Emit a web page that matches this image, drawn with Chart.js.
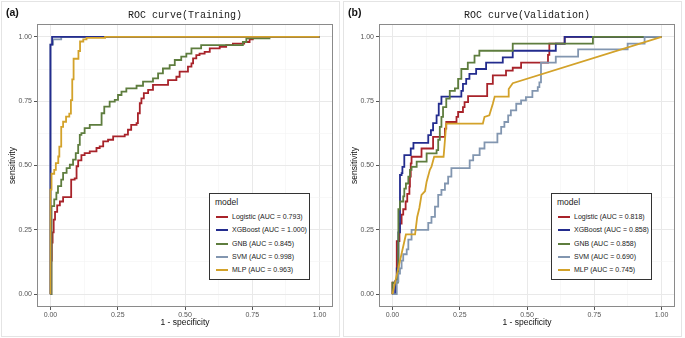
<!DOCTYPE html>
<html>
<head>
<meta charset="utf-8">
<script src="https://cdn.jsdelivr.net/npm/chart.js@4.4.0/dist/chart.umd.min.js"></script>
<style>
  body { margin: 0; background: #fff; width: 685px; height: 338px; overflow: hidden; position: relative;
         font-family: 'Liberation Sans', Arial, sans-serif; }
  .panel { position: absolute; top: 0; width: 340px; height: 338px; }
  .frame { position: absolute; left: 1px; top: 1px; width: 337px; height: 334px; border: 1px solid #e4e4e4; }
  .panel canvas { position: absolute; left: 0; top: 0; }
  .tag { position: absolute; left: 6px; top: 6px; font-weight: bold; font-size: 10.5px; color: #111; }
  .legend { position: absolute; left: 209px; top: 193px; width: 99px; height: 85px; border: 1px solid #333; background: #fff; }
  .legend .ttl { position: absolute; left: 5px; top: 3px; font-size: 8.5px; line-height: 10px; color: #222; }
  .legend .row { position: absolute; left: 0; height: 10px; width: 99px; }
  .legend .key { position: absolute; left: 6px; top: 4px; width: 12px; height: 2px; }
  .legend .lab { position: absolute; left: 22px; top: 0; font-size: 7px; line-height: 10px; color: #222; white-space: nowrap; }
</style>
</head>
<body>
<div class="panel" id="pa" style="left:0px">
  <div class="frame"></div>
  <canvas id="chartA" width="340" height="338"></canvas>
  <div class="tag">(a)</div>
  <div class="legend" id="legA"></div>
</div>
<div class="panel" id="pb" style="left:342px">
  <div class="frame"></div>
  <canvas id="chartB" width="340" height="338"></canvas>
  <div class="tag">(b)</div>
  <div class="legend" id="legB"></div>
</div>
<script>
// models and colours
const models = ['Logistic', 'XGBoost', 'GNB', 'SVM', 'MLP'];
const colors = ['#A8232A', '#232C8E', '#5E7D3E', '#8296B0', '#D3A22A'];
const trainAUC = [0.793, 1.000, 0.845, 0.998, 0.963];
const validAUC = [0.818, 0.858, 0.858, 0.690, 0.745];
const tickValues = [0, 0.25, 0.5, 0.75, 1];
const minorValues = [0.125, 0.375, 0.625, 0.875];

// ROC points [1 - specificity, sensitivity]
const trainLogistic = [[0,0],[0.003,0.13],[0.005,0.2],[0.008,0.24],[0.012,0.29],[0.017,0.32],[0.025,0.345],[0.035,0.36],[0.047,0.377],[0.077,0.445],[0.09,0.45],[0.097,0.497],[0.103,0.52],[0.115,0.54],[0.127,0.548],[0.146,0.555],[0.171,0.568],[0.183,0.574],[0.196,0.594],[0.214,0.6],[0.233,0.613],[0.276,0.62],[0.288,0.639],[0.3,0.658],[0.32,0.665],[0.325,0.703],[0.332,0.742],[0.338,0.761],[0.347,0.781],[0.363,0.794],[0.381,0.813],[0.437,0.832],[0.468,0.845],[0.48,0.865],[0.511,0.884],[0.524,0.897],[0.53,0.916],[0.542,0.929],[0.554,0.935],[0.573,0.942],[0.592,0.955],[0.629,0.961],[0.653,0.968],[0.678,0.974],[0.72,0.98],[0.74,0.99],[0.752,1],[1,1]];
const trainXGB = [[0,0],[0,0.97],[0.006,1],[1,1]];
const trainGNB = [[0,0],[0.004,0.342],[0.014,0.368],[0.022,0.394],[0.028,0.42],[0.04,0.445],[0.047,0.471],[0.06,0.49],[0.072,0.503],[0.084,0.523],[0.094,0.548],[0.103,0.58],[0.109,0.619],[0.115,0.626],[0.127,0.645],[0.146,0.658],[0.19,0.703],[0.2,0.729],[0.22,0.748],[0.239,0.755],[0.251,0.774],[0.264,0.787],[0.282,0.8],[0.32,0.81],[0.344,0.826],[0.381,0.839],[0.4,0.858],[0.418,0.877],[0.443,0.89],[0.462,0.91],[0.486,0.923],[0.505,0.935],[0.524,0.955],[0.56,0.968],[0.715,0.98],[0.728,0.994],[0.814,1],[1,1]];
const trainSVM = [[0,0],[0,0.97],[0.01,0.99],[0.04,1],[1,1]];
const trainMLP = [[0,0],[0,0.406],[0.004,0.468],[0.014,0.483],[0.02,0.509],[0.029,0.535],[0.033,0.573],[0.04,0.65],[0.047,0.67],[0.058,0.69],[0.07,0.702],[0.076,0.754],[0.081,0.835],[0.086,0.915],[0.104,0.945],[0.11,0.982],[0.122,0.99],[0.134,0.996],[0.203,1],[1,1]];

const validLogistic = [[0,0],[0,0.045],[0.016,0.206],[0.026,0.274],[0.034,0.309],[0.04,0.33],[0.049,0.36],[0.055,0.39],[0.063,0.418],[0.065,0.457],[0.068,0.508],[0.071,0.534],[0.108,0.566],[0.151,0.611],[0.195,0.643],[0.2,0.669],[0.238,0.689],[0.244,0.708],[0.262,0.727],[0.268,0.746],[0.281,0.77],[0.352,0.817],[0.373,0.85],[0.422,0.869],[0.447,0.88],[0.478,0.9],[0.578,0.93],[0.583,0.974],[0.64,1],[1,1]];
const validXGB = [[0,0],[0.01,0.05],[0.016,0.1],[0.022,0.24],[0.028,0.463],[0.034,0.47],[0.037,0.495],[0.044,0.54],[0.068,0.566],[0.078,0.588],[0.133,0.618],[0.143,0.637],[0.151,0.665],[0.164,0.695],[0.172,0.74],[0.182,0.768],[0.256,0.79],[0.262,0.817],[0.274,0.837],[0.286,0.856],[0.311,0.875],[0.348,0.9],[0.41,0.92],[0.447,0.946],[0.607,0.974],[0.64,1],[1,1]];
const validGNB = [[0,0],[0,0.045],[0.02,0.09],[0.022,0.33],[0.028,0.36],[0.04,0.38],[0.044,0.41],[0.05,0.43],[0.059,0.457],[0.065,0.483],[0.071,0.495],[0.09,0.515],[0.127,0.547],[0.164,0.56],[0.17,0.6],[0.176,0.65],[0.182,0.689],[0.188,0.727],[0.2,0.76],[0.213,0.79],[0.232,0.8],[0.244,0.837],[0.256,0.875],[0.28,0.9],[0.305,0.927],[0.323,0.946],[0.447,0.974],[0.745,1],[1,1]];
const validSVM = [[0,0],[0.0135,0],[0.016,0.05],[0.022,0.08],[0.028,0.1],[0.034,0.13],[0.04,0.155],[0.053,0.174],[0.059,0.212],[0.071,0.25],[0.133,0.277],[0.145,0.3],[0.158,0.34],[0.17,0.386],[0.182,0.405],[0.195,0.43],[0.207,0.457],[0.219,0.49],[0.287,0.52],[0.3,0.54],[0.324,0.566],[0.342,0.59],[0.39,0.624],[0.404,0.65],[0.416,0.669],[0.43,0.695],[0.44,0.714],[0.46,0.74],[0.478,0.753],[0.496,0.766],[0.52,0.79],[0.54,0.805],[0.546,0.823],[0.552,0.9],[0.607,0.923],[0.69,0.951],[0.874,0.974],[0.937,1],[1,1]];
// MLP validation has slanted segments, so its corners are listed as they are
const validMLP = [[0,0],[0.05,0.232],[0.084,0.232],[0.092,0.3],[0.1,0.335],[0.108,0.386],[0.121,0.4],[0.127,0.437],[0.139,0.483],[0.145,0.495],[0.155,0.534],[0.19,0.534],[0.2,0.663],[0.336,0.663],[0.342,0.689],[0.36,0.695],[0.373,0.74],[0.38,0.768],[0.43,0.768],[0.432,0.797],[0.447,0.82],[1,1]];

const font = "'Liberation Sans', Arial, sans-serif";

// plot panel border
const panelBox = {
  id: 'panelBox',
  afterDatasetsDraw(chart) {
    const a = chart.chartArea, ctx = chart.ctx;
    ctx.save();
    ctx.strokeStyle = '#8a8a8a';
    ctx.lineWidth = 1;
    ctx.strokeRect(Math.round(a.left) + 0.5, Math.round(a.top) + 0.5, Math.round(a.right - a.left) - 1, Math.round(a.bottom - a.top) - 1);
    ctx.restore();
  }
};

const axisOpts = (title, isY) => ({
  type: 'linear',
  min: -0.05,
  max: 1.05,
  afterBuildTicks: s => { s.ticks = tickValues.concat(minorValues).sort((a, b) => a - b).map(v => ({ value: v })); },
  afterFit: s => { if (isY) s.width = 37; else s.height = 31; },
  border: { display: false },
  grid: {
    color: c => minorValues.includes(c.tick && c.tick.value) ? '#f3f3f3' : '#e9e9e9',
    lineWidth: c => minorValues.includes(c.tick && c.tick.value) ? 0.6 : 1,
    tickColor: c => minorValues.includes(c.tick && c.tick.value) ? 'rgba(0,0,0,0)' : '#555',
    tickLength: 3
  },
  ticks: {
    autoSkip: false,
    maxRotation: 0,
    padding: isY ? 2 : 1,
    color: '#555',
    font: { family: font, size: 7 },
    callback: v => tickValues.includes(v) ? v.toFixed(2) : ''
  },
  title: {
    display: true,
    text: title,
    color: '#111',
    font: { family: font, size: 8.5 },
    padding: isY ? { top: 8, bottom: 0 } : { top: 0, bottom: 10 }
  }
});

const makeChart = (id, title, series, stepped, orders) => {
  const datasets = series.map((pts, i) => ({
    label: models[i],
    data: pts.map(p => ({ x: p[0], y: p[1] })),
    showLine: true,
    stepped: stepped[i] ? 'before' : false,
    borderColor: colors[i],
    backgroundColor: colors[i],
    borderWidth: 1.8,
    pointRadius: 0,
    order: orders[i]
  }));
  return new Chart(document.getElementById(id), {
    type: 'scatter',
    data: { datasets },
    options: {
      responsive: false,
      animation: false,
      layout: { padding: { left: 0, right: 7, top: 0, bottom: 0 } },
      scales: {
        x: axisOpts('1 - specificity', false),
        y: axisOpts('sensitivity', true)
      },
      plugins: {
        legend: { display: false },
        tooltip: { enabled: false },
        title: {
          display: true,
          fullSize: false,
          text: title,
          color: '#1a1a1a',
          font: { family: "'Liberation Mono', 'DejaVu Sans Mono', monospace", size: 10, weight: 'normal', lineHeight: 1.2 },
          padding: { top: 9.2, bottom: 2.8 }
        }
      }
    },
    plugins: [panelBox]
  });
};

const makeLegend = (id, auc) => {
  const box = document.getElementById(id);
  let html = '<div class="ttl">model</div>';
  models.forEach((m, i) => {
    html += '<div class="row" style="top:' + (18 + i * 13.25) + 'px">' +
      '<div class="key" style="background:' + colors[i] + '"></div>' +
      '<div class="lab">' + m + ' (AUC = ' + auc[i].toFixed(3) + ')</div></div>';
  });
  box.innerHTML = html;
};

makeChart('chartA', 'ROC curve(Training)',
  [trainLogistic, trainXGB, trainGNB, trainSVM, trainMLP],
  [true, true, true, true, true],
  [5, 2, 4, 3, 1]);
makeChart('chartB', 'ROC curve(Validation)',
  [validLogistic, validXGB, validGNB, validSVM, validMLP],
  [true, true, true, true, false],
  [5, 4, 3, 2, 1]);
makeLegend('legA', trainAUC);
makeLegend('legB', validAUC);
</script>
</body>
</html>
